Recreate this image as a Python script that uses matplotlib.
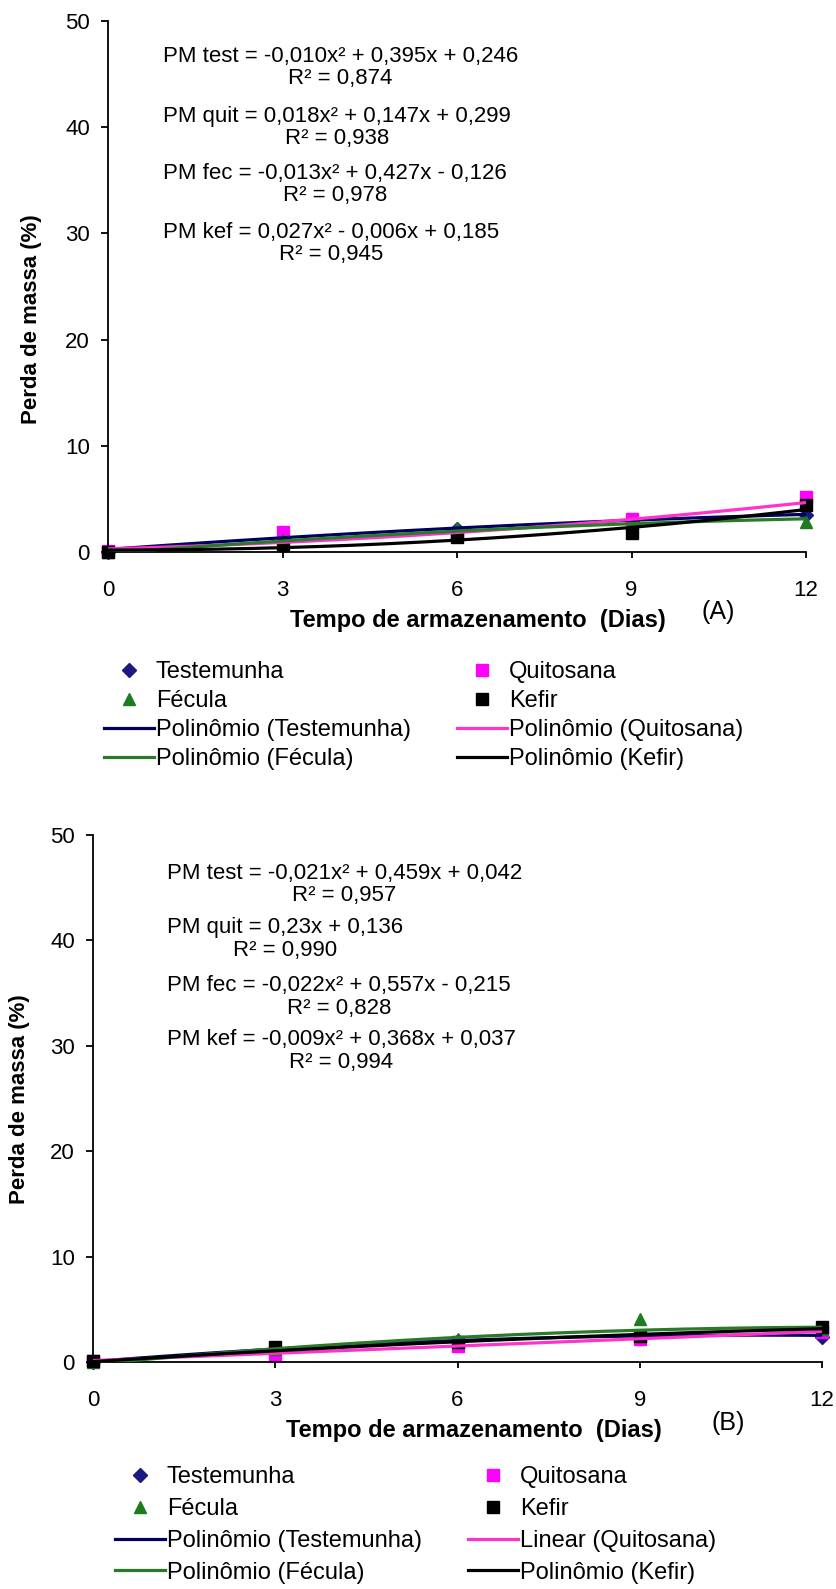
import numpy as np
import matplotlib
matplotlib.use("Agg")
import matplotlib.pyplot as plt

plt.rcParams['font.family'] = ['Liberation Sans', 'DejaVu Sans']

# ---- data ----
dias = [0, 3, 6, 9, 12]
ticks_x = [0, 3, 6, 9, 12]
ticks_y = [0, 10, 20, 30, 40, 50]

# Panel A
a_test = [0.0, 1.3, 2.2, 2.9, 3.5]
a_quit = [0.1, 1.9, 1.8, 3.1, 5.2]
a_fec = [0.0, 1.1, 2.3, 2.6, 2.8]
a_kef = [0.0, 0.7, 1.4, 1.8, 4.4]
a_coef_test = [-0.010, 0.395, 0.246]
a_coef_quit = [0.018, 0.147, 0.299]
a_coef_fec = [-0.013, 0.427, -0.126]
a_coef_kef = [0.027, -0.006, 0.185]
a_eqs = ["PM test = -0,010x² + 0,395x + 0,246\nR² = 0,874",
         "PM quit = 0,018x² + 0,147x + 0,299\nR² = 0,938",
         "PM fec = -0,013x² + 0,427x - 0,126\nR² = 0,978",
         "PM kef = 0,027x² - 0,006x + 0,185\nR² = 0,945"]

# Panel B
b_test = [0.0, 1.2, 2.0, 2.5, 2.4]
b_quit = [0.1, 0.7, 1.5, 2.2, 2.8]
b_fec = [0.0, 1.2, 2.2, 4.1, 3.1]
b_kef = [0.1, 1.4, 1.9, 2.5, 3.3]
b_coef_test = [-0.021, 0.459, 0.042]
b_coef_quit = [0.0, 0.23, 0.136]
b_coef_fec = [-0.022, 0.557, -0.215]
b_coef_kef = [-0.009, 0.368, 0.037]
b_eqs = ["PM test = -0,021x² + 0,459x + 0,042\nR² = 0,957",
         "PM quit = 0,23x + 0,136\nR² = 0,990",
         "PM fec = -0,022x² + 0,557x - 0,215\nR² = 0,828",
         "PM kef = -0,009x² + 0,368x + 0,037\nR² = 0,994"]

names = ["Testemunha", "Quitosana", "Fécula", "Kefir"]
a_fit_names = ["Polinômio (Testemunha)", "Polinômio (Quitosana)",
               "Polinômio (Fécula)", "Polinômio (Kefir)"]
b_fit_names = ["Polinômio (Testemunha)", "Linear (Quitosana)",
               "Polinômio (Fécula)", "Polinômio (Kefir)"]

# ---- styles ----
W, H = 836, 1589
mk_colors = ['#1a1a80', '#ff00ff', '#1e7b1e', '#000000']
ln_colors = ['#000060', '#ff33cc', '#2a7a2a', '#000000']
markers = ['D', 's', '^', 's']
msizes = [7, 8, 9, 8]


def fx(x):
    return x / W


def fy(y):
    return 1 - y / H


fig = plt.figure(figsize=(W / 100, H / 100), dpi=100)
fig.patch.set_facecolor('white')


def panel(rect, series, coefs, eqs, eq_left, eq_ys, fit_names,
          xlabel_pos, tag, tag_pos, ylabel_pos, leg_pos, leg_spacing):
    l, t, r, b = rect
    ax = fig.add_axes([fx(l), fy(b), fx(r) - fx(l), fy(t) - fy(b)])
    ax.set_xlim(0, 12)
    ax.set_ylim(0, 50)
    for s in ['top', 'right']:
        ax.spines[s].set_visible(False)
    for s in ['left', 'bottom']:
        ax.spines[s].set_linewidth(1.3)
    ax.set_xticks(ticks_x)
    ax.set_yticks(ticks_y)
    ax.tick_params(axis='x', direction='out', length=4, width=1.3,
                   labelsize=16, pad=16)
    ax.tick_params(axis='y', direction='out', length=5, width=1.3,
                   labelsize=16, pad=8)
    ax.set_facecolor('white')

    xs = np.linspace(0, 12, 200)
    mk_handles, ln_handles = [], []
    for i in range(4):
        h, = ax.plot(dias, series[i], linestyle='none', marker=markers[i],
                     color=mk_colors[i], markersize=msizes[i],
                     clip_on=False, zorder=2, label=names[i])
        mk_handles.append(h)
    for i in range(4):
        lh, = ax.plot(xs, np.polyval(coefs[i], xs), color=ln_colors[i],
                      linewidth=2.3, zorder=3, label=fit_names[i])
        ln_handles.append(lh)

    for eq, yc in zip(eqs, eq_ys):
        fig.text(fx(eq_left), fy(yc), eq, ha='left', va='center',
                 multialignment='center', fontsize=16, linespacing=1.1)

    fig.text(fx(xlabel_pos[0]), fy(xlabel_pos[1]),
             "Tempo de armazenamento  (Dias)", ha='center', va='center',
             fontsize=17, fontweight='bold')
    fig.text(fx(tag_pos[0]), fy(tag_pos[1]), tag, ha='center', va='center',
             fontsize=18)
    fig.text(fx(ylabel_pos[0]), fy(ylabel_pos[1]), "Perda de massa (%)",
             ha='center', va='center', rotation=90, fontsize=16,
             fontweight='bold')

    # legend: column-major order
    handles = [mk_handles[0], mk_handles[2], ln_handles[0], ln_handles[2],
               mk_handles[1], mk_handles[3], ln_handles[1], ln_handles[3]]
    labels = [h.get_label() for h in handles]
    fig.legend(handles, labels, ncol=2, loc='upper left',
               bbox_to_anchor=(fx(leg_pos[0]), fy(leg_pos[1])),
               frameon=False, fontsize=17, handlelength=2.1,
               handletextpad=0.1, columnspacing=1.95,
               labelspacing=leg_spacing,
               borderpad=0, borderaxespad=0, markerscale=1.0)
    return ax


panel((108, 21, 806, 552),
      [a_test, a_quit, a_fec, a_kef],
      [a_coef_test, a_coef_quit, a_coef_fec, a_coef_kef],
      a_eqs, 163, [67.5, 127.5, 184.5, 243.5], a_fit_names,
      (478, 620), "(A)", (718, 612), (32, 319), (104, 661), 0.30)

panel((93, 835, 822, 1362),
      [b_test, b_quit, b_fec, b_kef],
      [b_coef_test, b_coef_quit, b_coef_fec, b_coef_kef],
      b_eqs, 167, [884.5, 939, 997, 1051], b_fit_names,
      (474, 1430), "(B)", (728, 1423), (20, 1099), (115, 1466), 0.42)

fig.savefig("out.png", dpi=100, facecolor='white')
